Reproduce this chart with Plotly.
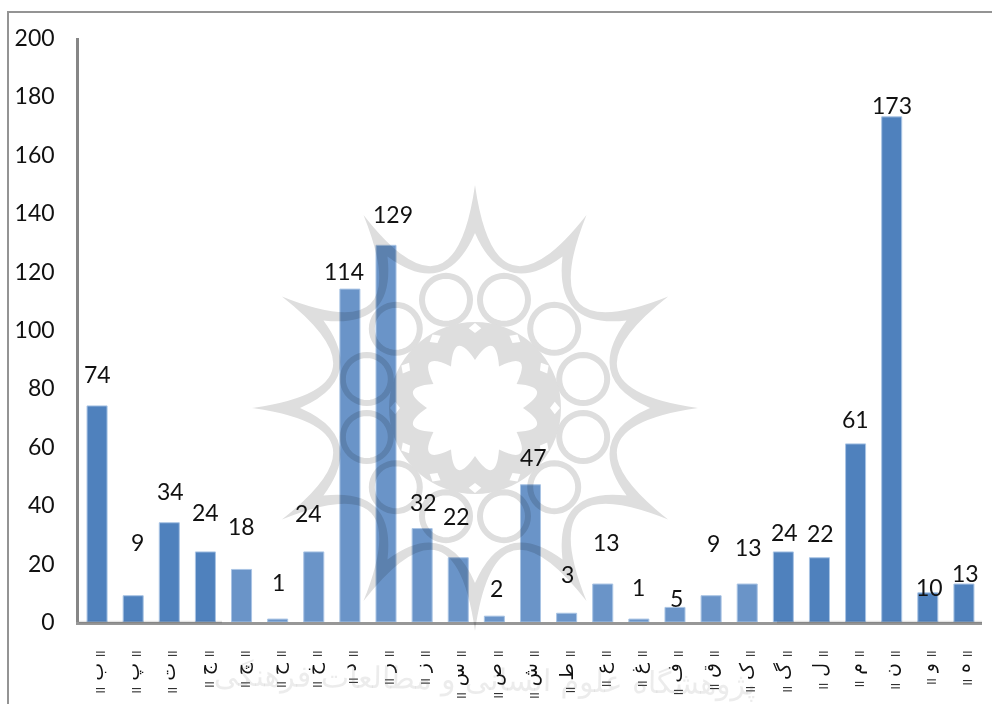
import math
import plotly.graph_objects as go

# Chart values
letters = ["ب", "پ", "ت", "ج", "چ", "ح", "خ", "د", "ر", "ز", "س", "ص", "ش",
           "ط", "ع", "غ", "ف", "ق", "ک", "گ", "ل", "م", "ن", "و", "ه"]
counts = [74, 9, 34, 24, 18, 1, 24, 114, 129, 32, 22, 2, 47,
          3, 13, 1, 5, 9, 13, 24, 22, 61, 173, 10, 13]
y_ticks = [0, 20, 40, 60, 80, 100, 120, 140, 160, 180, 200]

# Hand placement of the value labels, in pixels relative to the bar top
label_dx = [0, 4, 1, 0, 0, 1, -5, -6, 7, 1, -2, 2, 3, 1, 4, 0, 2, 2, 1, 1.5, 1.5, 0, 0, 2, 2]
label_up = [32, 54, 32, 40, 43, 37, 39, 18, 31, 27, 42, 28, 28, 39, 42, 32, 9, 53, 37, 20, 25, 25, 12, 6, 11]

WIDTH, HEIGHT = 992, 704
LEFT, RIGHT, TOP, BASE = 79, 982, 38, 622
BAR_DARK = "#4f81bd"
BAR_PALE = "#6a94c8"
BAR_EDGE = "#a9c4e4"
SEAL_GREY = "#dedede"

bars_mark = "<b><span style='font-size:9px'>||</span></b>"
tick_text = [bars_mark + "\u00a0" + c + "\u00a0" + bars_mark for c in letters]


def px(x):
    return (x - LEFT) / (RIGHT - LEFT)


def py(y):
    return (BASE - y) / (BASE - TOP)


def pt(x, y):
    return f"{px(x):.5f},{py(y):.5f}"


# Rosette seal, laid out in polar coordinates around its centre
CX, CY = 475, 408


def polar(r, deg):
    a = math.radians(deg)
    return CX + r * math.sin(a), CY - r * math.cos(a)


def scallop_ring(tip_r, ctrl_r, n=12, start=0.0):
    step = 360 / n
    d = "M" + pt(*polar(tip_r, start))
    for k in range(n):
        ctrl = polar(ctrl_r, start + step * (k + 0.5))
        end = polar(tip_r, start + step * (k + 1))
        d += " Q" + pt(*ctrl) + " " + pt(*end)
    return d + " Z "


def circle_path(x, y, r, segments=40):
    d = ""
    for k in range(segments):
        a = 2 * math.pi * k / segments
        d += ("M" if k == 0 else "L") + pt(x + r * math.cos(a), y + r * math.sin(a)) + " "
    return d + "Z "


def diamond(r, deg, size):
    return ("M" + pt(*polar(r + size, deg)) + " L" + pt(*polar(r, deg + size * 0.9)) +
            " L" + pt(*polar(r - size, deg)) + " L" + pt(*polar(r, deg - size * 0.9)) + " Z ")


shapes = []

# Star outline with tapering points
shapes.append(dict(type="path", xref="paper", yref="paper", layer="above",
                   path=scallop_ring(223, 80) + scallop_ring(175, 112),
                   fillcolor=SEAL_GREY, fillrule="evenodd", line_width=0))

# Ring of twelve circles
ring_path = ""
for k in range(12):
    ring_path += circle_path(*polar(112, 15 + 30 * k), 24)
shapes.append(dict(type="path", xref="paper", yref="paper", layer="above",
                   path=ring_path, fillcolor="rgba(0,0,0,0)",
                   line=dict(color=SEAL_GREY, width=6)))

# Central band with its flower and small diamond openings
band = circle_path(CX, CY, 86, 72) + scallop_ring(48, 82, start=0.0)
for k in range(12):
    band += diamond(80, 30 * k, 5)
shapes.append(dict(type="path", xref="paper", yref="paper", layer="above",
                   path=band, fillcolor=SEAL_GREY, fillrule="evenodd", line_width=0))

# Outer frame
shapes.append(dict(type="path", xref="paper", yref="paper", layer="below",
                   path="M" + pt(8, HEIGHT + 5) + " L" + pt(8, 12) + " L" + pt(WIDTH + 5, 12),
                   line=dict(color="#949494", width=2)))

# The axis is darker outside the pale central strip
for x0, x1 in [(LEFT, 222), (777, RIGHT)]:
    shapes.append(dict(type="line", xref="paper", yref="paper", layer="above",
                       x0=px(x0), x1=px(x1), y0=py(BASE), y1=py(BASE),
                       line=dict(color="#e3e3e3", width=2.5)))

annotations = [dict(text="پژوهشگاه علوم انسانی و مطالعات فرهنگی",
                    xref="paper", yref="paper", x=px(485), y=py(680),
                    xanchor="center", yanchor="middle", showarrow=False, textangle=1,
                    font=dict(family="DejaVu Sans", size=30, color="rgba(120,120,120,0.14)"))]

for i, (name, value) in enumerate(zip(tick_text, counts)):
    annotations.append(dict(text=str(value), x=name, y=value, xref="x", yref="y",
                            xshift=label_dx[i], yshift=label_up[i],
                            xanchor="center", yanchor="middle", showarrow=False,
                            font=dict(family="Lato", size=23, color="#111111")))

bar_colors = [BAR_PALE if 4 <= i <= 18 else BAR_DARK for i in range(len(counts))]

fig = go.Figure(go.Bar(x=tick_text, y=counts,
                       marker=dict(color=bar_colors, line=dict(color=BAR_EDGE, width=1)),
                       hoverinfo="skip"))

fig.update_layout(
    width=WIDTH, height=HEIGHT, autosize=False,
    margin=dict(l=LEFT, r=WIDTH - RIGHT, t=TOP, b=HEIGHT - BASE, pad=0),
    paper_bgcolor="white", plot_bgcolor="rgba(0,0,0,0)",
    showlegend=False, bargap=0.446,
    shapes=shapes, annotations=annotations,
    font=dict(family="Lato", color="#111111"),
)
fig.update_xaxes(type="category", automargin=False, showgrid=False, zeroline=False,
                 showline=True, linecolor="#979797", linewidth=2.5,
                 ticks="", tickangle=-90, ticklabelstandoff=18,
                 tickfont=dict(family="DejaVu Sans", size=19, color="#111111"))
fig.update_yaxes(range=[0, 200], automargin=False, tickvals=y_ticks, showgrid=False, zeroline=False,
                 showline=True, linecolor="#868686", linewidth=2.5,
                 ticks="", ticklabelstandoff=17,
                 tickfont=dict(family="Lato", size=23, color="#111111"))

# The seal tints whatever lies beneath it
blend = ("document.querySelectorAll('.layer-above > .shapelayer')"
         ".forEach(function(g){g.style.mixBlendMode='multiply';});")
fig.write_html("out.html", post_script=blend)
